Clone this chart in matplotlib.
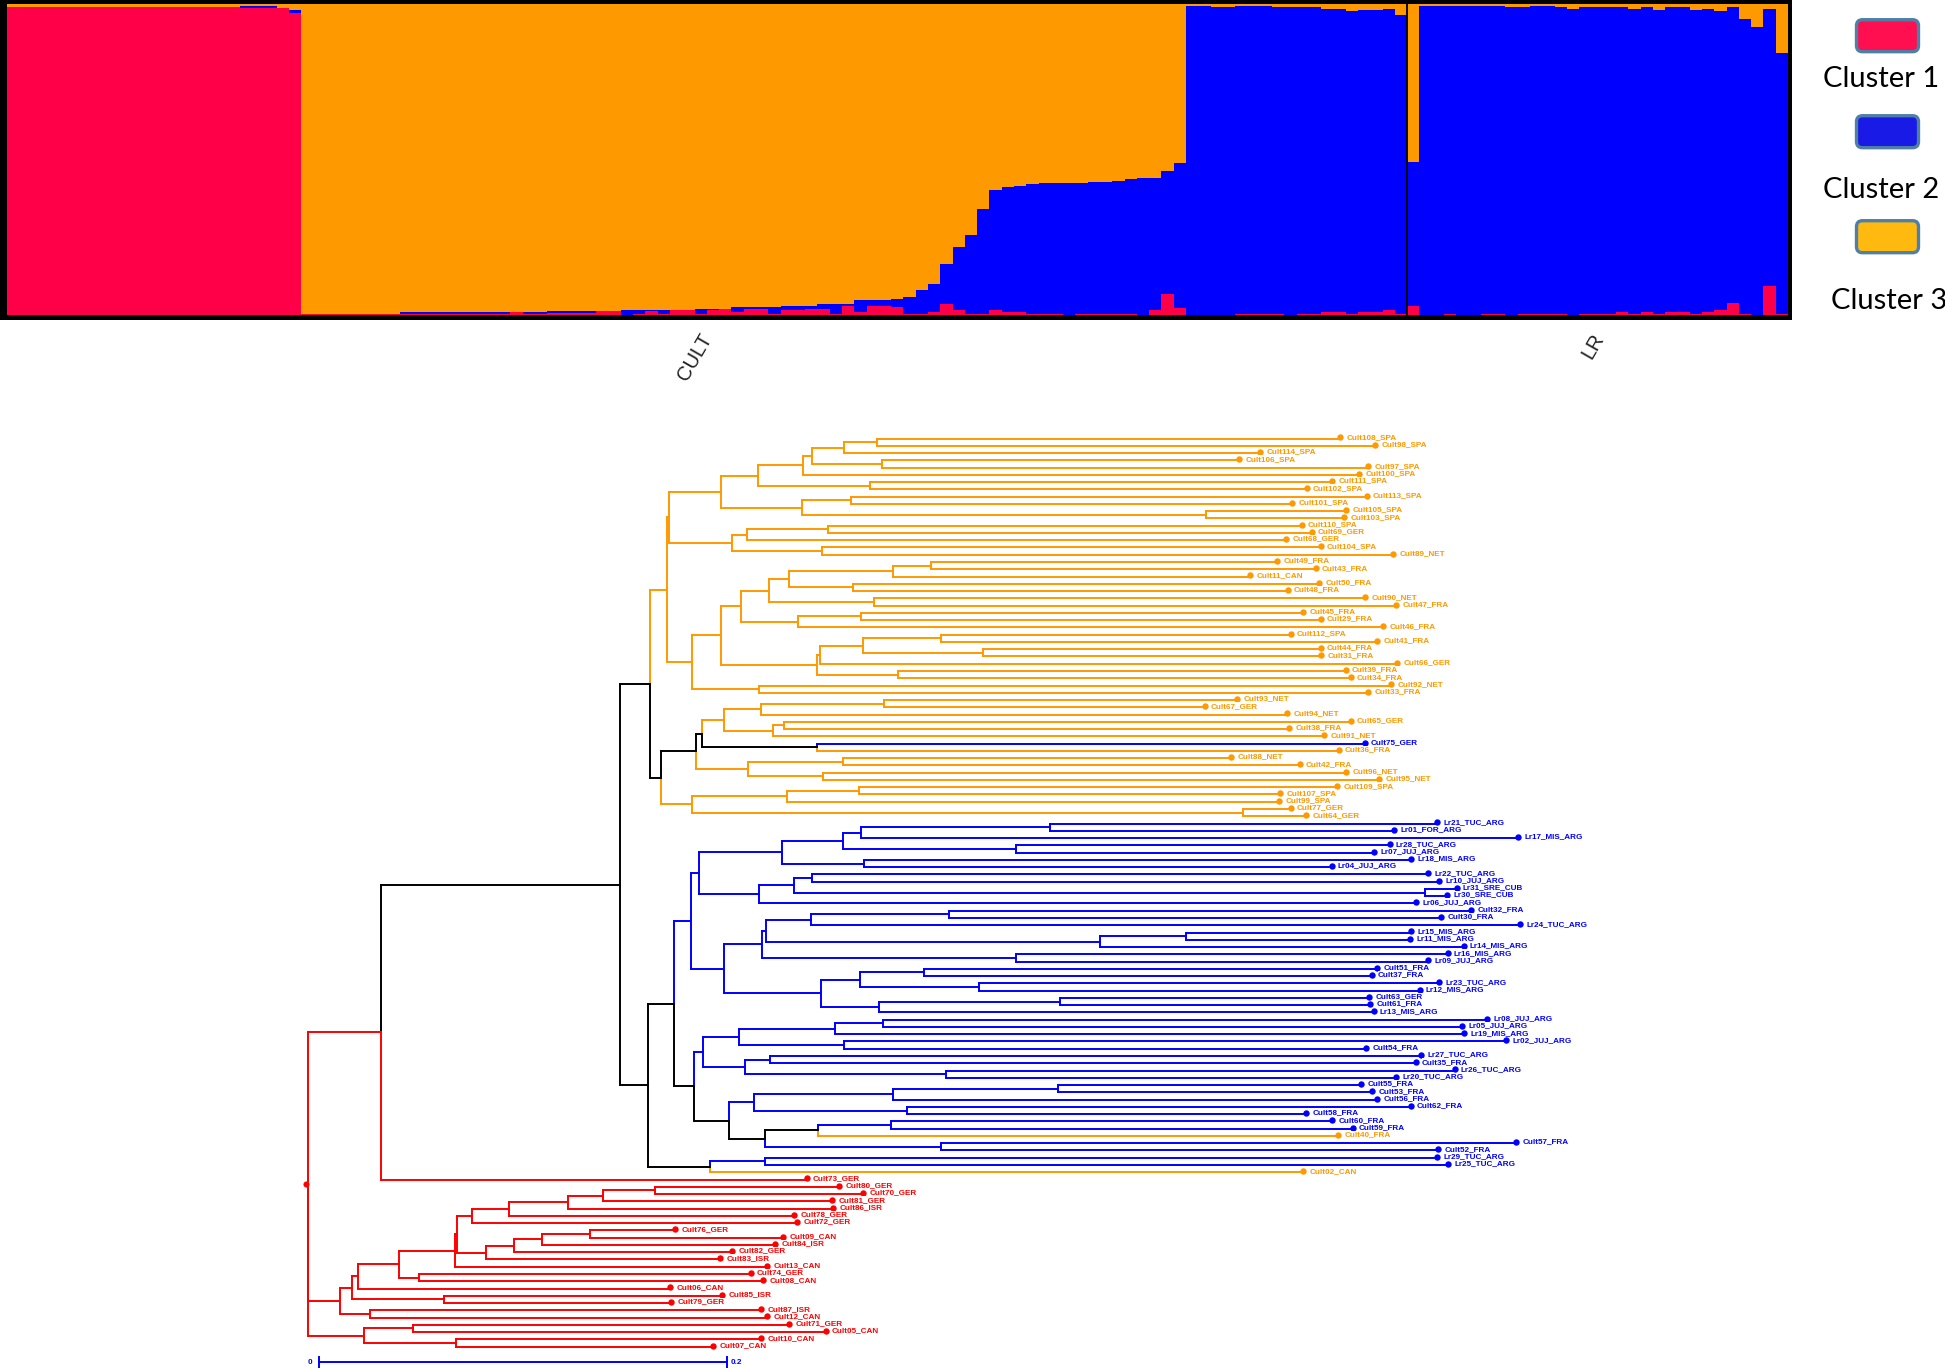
import matplotlib
matplotlib.use("Agg")
import matplotlib.pyplot as plt
from matplotlib.patches import FancyBboxPatch, Rectangle

W, H = 1945, 1368
RED, BLUE, ORANGE, BLACK = "#FF0000", "#0000FF", "#FF9900", "#000000"

# ---------- STRUCTURE-style admixture proportions (percent per individual) ----------
group_labels = ["CULT", "LR"]
group_sizes = [114, 31]
cluster1 = ([99.1]*19 + [98.8]*4 + [97.2] + [.4]*17 + [1.0] + [.4]*2 + [.7]*4 + [1.3]*2
            + [0, .4, 1.3, .4, 1.7, 1.7, .4, 1.7, 2.0, 1.0, 2.0, 2.0, .4, 1.7, 1.7, 2.0, 2.0, .4,
               3.0, 1.0, 3.0, 3.0, 2.6, .4, .4, 1.0, 3.5, 1.7, .4, .4, 1.7, 1.0, 1.0, .4, .4, .4, 0]
            + [.4]*5 + [0, 1.6, 6.8, 2.1] + [0]*4 + [.4]*4 + [0, .4, .4, 1.0, 1.0, .4, 1.0, 1.0, 1.6, .4]
            + [3.0, 0, 0, .4, 0, 0, .4, .4, 0, .4, .4, .4, .4, 0, .4, .4, .4, 1.0, .4, 1.0, .4, 1.0, 1.0,
               .4, 1.0, 1.6, 3.9, .4, 0, 9.3, .4])
cluster3 = ([.9]*19 + [.6]*3 + [1.2, 1.9] + [99.6]*8 + [99.0]*12 + [98.7]*6 + [98.3]*6 + [98.0]*3
            + [97.4]*4 + [97.0]*3 + [96.5]*3 + [95.3]*3
            + [94.9, 94.1, 92.0, 89.9, 83.6, 78.2, 74.4, 66.0, 59.8, 59.0, 58.4, 58.0]
            + [57.6]*4 + [57.2, 57.1, 56.8, 56.4, 55.9, 55.9, 53.7, 51.2]
            + [.8, .8, 1.1, 1.1, .8, .8, .8, 1.1, 1.1, 1.1, 1.1, 1.5, 1.5, 2.4, 1.9, 1.9, 1.5, 3.6]
            + [50.8] + [.8]*7 + [1.1, 1.1, .8, .8, 1.1, 1.5, 1.1, 1.1, 1.1, 1.1, 1.5, 1.1, 1.9, 1.1, 1.1,
                                1.9, 1.5, 2.4, 1.1, 4.9, 7.3, 1.5, 15.6])
cluster2 = [100 - a - b for a, b in zip(cluster1, cluster3)]
legend_labels = ["Cluster 1", "Cluster 2", "Cluster 3"]

# ---------- tree tips, top to bottom ----------
leaf_labels = """Cult108_SPA Cult98_SPA Cult114_SPA Cult106_SPA Cult97_SPA Cult100_SPA Cult111_SPA Cult102_SPA
Cult113_SPA Cult101_SPA Cult105_SPA Cult103_SPA Cult110_SPA Cult69_GER Cult68_GER Cult104_SPA Cult89_NET
Cult49_FRA Cult43_FRA Cult11_CAN Cult50_FRA Cult48_FRA Cult90_NET Cult47_FRA Cult45_FRA Cult29_FRA Cult46_FRA
Cult112_SPA Cult41_FRA Cult44_FRA Cult31_FRA Cult66_GER Cult39_FRA Cult34_FRA Cult92_NET Cult33_FRA Cult93_NET
Cult67_GER Cult94_NET Cult65_GER Cult38_FRA Cult91_NET Cult75_GER Cult36_FRA Cult88_NET Cult42_FRA Cult96_NET
Cult95_NET Cult109_SPA Cult107_SPA Cult99_SPA Cult77_GER Cult64_GER
Lr21_TUC_ARG Lr01_FOR_ARG Lr17_MIS_ARG Lr28_TUC_ARG Lr07_JUJ_ARG Lr18_MIS_ARG Lr04_JUJ_ARG Lr22_TUC_ARG
Lr10_JUJ_ARG Lr31_SRE_CUB Lr30_SRE_CUB Lr06_JUJ_ARG Cult32_FRA Cult30_FRA Lr24_TUC_ARG Lr15_MIS_ARG Lr11_MIS_ARG
Lr14_MIS_ARG Lr16_MIS_ARG Lr09_JUJ_ARG Cult51_FRA Cult37_FRA Lr23_TUC_ARG Lr12_MIS_ARG Cult63_GER Cult61_FRA
Lr13_MIS_ARG Lr08_JUJ_ARG Lr05_JUJ_ARG Lr19_MIS_ARG Lr02_JUJ_ARG Cult54_FRA Lr27_TUC_ARG Cult35_FRA Lr26_TUC_ARG
Lr20_TUC_ARG Cult55_FRA Cult53_FRA Cult56_FRA Cult62_FRA Cult58_FRA Cult60_FRA Cult59_FRA Cult40_FRA Cult57_FRA
Cult52_FRA Lr29_TUC_ARG Lr25_TUC_ARG Cult02_CAN
Cult73_GER Cult80_GER Cult70_GER Cult81_GER Cult86_ISR Cult78_GER Cult72_GER Cult76_GER Cult09_CAN Cult84_ISR
Cult82_GER Cult83_ISR Cult13_CAN Cult74_GER Cult08_CAN Cult06_CAN Cult85_ISR Cult79_GER Cult87_ISR Cult12_CAN
Cult71_GER Cult05_CAN Cult10_CAN Cult07_CAN""".split()

# tip positions (upper clades in one reading unit, red clade in another)
main_leaf_pos = [1160, 1215, 1035, 1002, 1205, 1190, 1148, 1108, 1202, 1085, 1170, 1167, 1100, 1116, 1076, 1130, 1244,
                 1062, 1122, 1019, 1128, 1078, 1200, 1248, 1103, 1130, 1228, 1083, 1219, 1130, 1131, 1250, 1169, 1177,
                 1241, 1204, 999, 948, 1077, 1177, 1080, 1136, 1199, 1158, 989, 1097, 1170, 1222, 1156, 1067, 1065,
                 1083, 1107,
                 1313, 1245, 1440, 1238, 1214, 1272, 1147, 1298, 1315, 1343, 1328, 1279, 1366, 1319, 1442, 1272, 1270,
                 1354, 1329, 1299, 1219, 1210, 1316, 1285, 1206, 1207, 1213, 1391, 1352, 1355, 1421, 1201, 1288, 1279,
                 1340, 1248, 1194, 1211, 1219, 1271, 1107, 1148, 1180, 1157, 1436, 1314, 1313, 1330, 1103]
red_leaf_pos = [1157, 1230, 1284, 1214, 1216, 1129, 1136, 863, 1105, 1086, 990, 963, 1068, 1032, 1059, 852, 968, 853,
                1056, 1068, 1118, 1200, 1055, 947]
orange_in_blue_clade = {"Cult40_FRA", "Cult02_CAN"}
blue_in_orange_clade = {"Cult75_GER"}

# tree topology: (node position, child, child, ...); an int child is a 1-based tip number
upper_a = (190,
           (248,
            (318, (333, (382, (435, 1, 2), 3), (442, 4, 5)), 6),
            (423, 7, 8)),
           (317, (393, 9, 10), (950, 11, 12)))
upper_b = (207, (231, (357, 13, 14), 15), (348, 16, 17))
upper_c = (145,
           (190,
            (221,
             (265, (297, (460, (519, 18, 19), 20), (396, 21, 22)), (429, 23, 24)),
             (311, (410, 25, 26), 27)),
            (341, (345, (412, (534, 28, 29), (601, 30, 31)), 32), (467, 33, 34))),
           (250, 35, 36))
lower_orange = (95,
                (150,
                 (160,
                  (195, (252, (445, 37, 38), 39), (271, (289, 40, 41), 42)),
                  (340, 43, 44)),
                 (232, (381, 45, 46), (350, 47, 48))),
                (145, (293, (406, 49, 50), 51), (1009, 52, 53)))
blue_upper = (142,
              (155,
               (286, (381, (410, (705, 54, 55), 56), (653, 57, 58)), (414, 59, 60)),
               (250, (304, (333, 61, 62), (1293, 63, 64)), 65)),
              (195,
               (254,
                (261, (331, (548, 66, 67), 68), (784, (919, 69, 70), 71)),
                (652, 72, 73)),
               (346,
                (407, (508, 74, 75), (594, 76, 77)),
                (437, (722, 78, 79), 80))))
blue_lower = (148,
              (161,
               (218, (368, (443, 81, 82), 83), (382, 84, 85)),
               (228, (267, 86, 87), (543, 88, 89))),
              (203,
               (241, (460, (718, 90, 91), 92), (482, 93, 94)),
               (258, (342, (457, 95, 96), 97), (535, 98, 99))))
main_clade = (32,
              (78, (105, (108, upper_a, upper_b), upper_c), lower_orange),
              (76, (116, blue_upper, blue_lower), (173, (259, 100, 101), 102)))
red_upper = (204, "MAIN", 103)
red_mid = (113,
           (139,
            (152,
             (244,
              (369,
               (375,
                (408, (490, (622, (701, (818, 104, 105), 106), 107), 108), 109),
                (438, (502, (565, (672, 110, 111), 112), 113), 114)),
               115),
              (290, 116, 117)),
             118),
            (345, 119, 120)),
           (180, 121, 122))
red_low = (166, (276, 123, 124), (372, 125, 126))
root = (40, red_upper, red_mid, red_low)

scale_label_ends = ["0", "0.2"]
scale_length = 0.2

# ---------- layout constants ----------
PX_PER_UNIT = 2038.0
ROOT_PX = 308.0
TIP0_PX, TIP_STEP = 438.5, 7.265


def main_dist(v):
    return (600 + v / 1.568 - ROOT_PX) / PX_PER_UNIT


def red_dist(v):
    return (290 + v / 2.24 - ROOT_PX) / PX_PER_UNIT


def leaf_color(name):
    if name in orange_in_blue_clade:
        return ORANGE
    if name in blue_in_orange_clade:
        return BLUE
    if name.startswith("Lr"):
        return BLUE
    idx = leaf_labels.index(name)
    if idx < 53:
        return ORANGE
    return BLUE if idx < 102 else RED


leaf_dist = [main_dist(v) for v in main_leaf_pos] + [red_dist(v) for v in red_leaf_pos]
leaf_cols = [leaf_color(n) for n in leaf_labels]

fig = plt.figure(figsize=(W / 100, H / 100), dpi=100, facecolor="white")

# ---------- admixture bar panel ----------
fig.add_artist(Rectangle((0, 1 - 320 / H), 1792 / W, 320 / H, transform=fig.transFigure,
                         facecolor="black", edgecolor="none", zorder=0))
ax = fig.add_axes([6.5 / W, 1 - 315 / H, (1788 - 6.5) / W, (315 - 4) / H], zorder=2)
xs = list(range(len(cluster1)))
bot2 = cluster1
bot3 = [a + b for a, b in zip(cluster1, cluster2)]
ax.bar(xs, cluster1, width=1.0, align="edge", color="#FF0048", linewidth=0)
ax.bar(xs, cluster2, width=1.0, align="edge", bottom=bot2, color=BLUE, linewidth=0)
ax.bar(xs, cluster3, width=1.0, align="edge", bottom=bot3, color=ORANGE, linewidth=0)
ax.axvline(group_sizes[0], color="black", lw=1.3)
ax.set_xlim(0, sum(group_sizes))
ax.set_ylim(0, 100)
ax.set_yticks([])
ax.set_xticks([56, 129.1], group_labels, rotation=60, ha="center", va="top",
              fontsize=14.5, family="Liberation Sans", color="#222222")
ax.tick_params(axis="x", length=0, pad=11)
for s in ax.spines.values():
    s.set_visible(False)

# ---------- tree ----------
tx = fig.add_axes([0, 0, 1, 1], zorder=1)
tx.set_xlim(-ROOT_PX / PX_PER_UNIT, (W - ROOT_PX) / PX_PER_UNIT)
tx.set_ylim((H - TIP0_PX) / TIP_STEP, -TIP0_PX / TIP_STEP)
tx.axis("off")

LW = 1.4
z_line = 2


def seg(xv, yv, col):
    tx.plot(xv, yv, color=col, lw=LW, solid_capstyle="projecting", zorder=z_line)


def layout(node, conv):
    """Return (x, y, colour, draw list entries) of a subtree."""
    if node == "MAIN":
        return layout(main_clade, main_dist)
    if isinstance(node, int):
        i = node - 1
        return leaf_dist[i], float(i), leaf_cols[i], []
    x = conv(node[0])
    kids = [layout(c, conv) for c in node[1:]]
    y = (kids[0][1] + kids[-1][1]) / 2
    cols = {k[2] for k in kids}
    col = cols.pop() if len(cols) == 1 else BLACK
    out = []
    for k in kids:
        out += k[3]
        out.append((x, y, k[0], k[1], k[2]))
    return x, y, col, out


rx, ry, _, branches = layout(root, red_dist)
red_stem_target = layout(red_upper, red_dist)
for px_, py_, cx_, cy_, col_ in branches:
    if (cx_, cy_) == (red_stem_target[0], red_stem_target[1]):
        col_ = RED
    seg([px_, px_], [py_, cy_], col_)
    seg([px_, cx_], [cy_, cy_], col_)

LIFT = 0.15
tx.plot([rx - 0.001], [ry], "o", color=RED, ms=4.4, mew=0, zorder=4)
for i, (name, d, c) in enumerate(zip(leaf_labels, leaf_dist, leaf_cols)):
    tx.plot([d], [i - LIFT], "o", color=c, ms=4.6, mew=0, zorder=3)
    tx.annotate(name, (d, i - LIFT), xytext=(4.6, 0), textcoords="offset points", ha="left", va="center",
                fontsize=5.9, fontweight="bold", family="Liberation Sans", color=c, zorder=5 + i * 0.01,
                bbox=dict(facecolor="white", edgecolor="none", pad=0.3))

# scale bar
sb0 = (319 - ROOT_PX) / PX_PER_UNIT
sb_y = (1362 - TIP0_PX) / TIP_STEP
tick_h = 5.5 / TIP_STEP
tx.plot([sb0, sb0 + scale_length], [sb_y, sb_y], color=BLUE, lw=LW, zorder=2)
for xv, lab, off in zip([sb0, sb0 + scale_length], scale_label_ends, [-5, 3]):
    tx.plot([xv, xv], [sb_y - tick_h, sb_y + tick_h], color=BLUE, lw=LW, zorder=2)
    tx.annotate(lab, (xv, sb_y), xytext=(off, 0), textcoords="offset points",
                ha="right" if off < 0 else "left", va="center", fontsize=5.9, fontweight="bold",
                family="Liberation Sans", color=BLUE)

# ---------- legend ----------
lg = fig.add_axes([0, 0, 1, 1], zorder=3)
lg.set_xlim(0, W)
lg.set_ylim(H, 0)
lg.axis("off")
lg.patch.set_alpha(0)
swatch_cols = ["#FF0F50", "#1A1AE6", "#FFB90F"]
swatch_tops = [19.7, 115.7, 220.7]
text_pos = [(1881, 79), (1881, 190), (1889, 301)]
for col, top, lab, (tx_, ty_) in zip(swatch_cols, swatch_tops, legend_labels, text_pos):
    lg.add_patch(FancyBboxPatch((1856.5, top), 62, 32, boxstyle="round,pad=0,rounding_size=6",
                                facecolor=col, edgecolor="#4F7FA6", lw=2.4))
    lg.text(tx_, ty_, lab, ha="center", va="center", fontsize=21, family="Lato", color="black")

fig.savefig("out.png", dpi=100)
